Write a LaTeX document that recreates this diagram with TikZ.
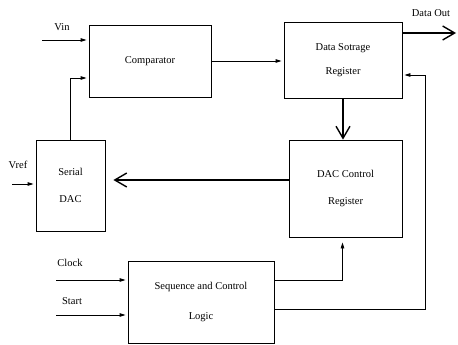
\documentclass[tikz,border=0pt]{standalone}
\usepackage{fontspec}
\setmainfont{Liberation Serif}
\usetikzlibrary{arrows.meta,calc,positioning}

\begin{document}
\begin{tikzpicture}[x=1pt,y=-1pt,>={Triangle[length=6pt,width=3.5pt]},
  every node/.style={font=\fontsize{10.5}{12.6}\selectfont},
  block/.style={draw,line width=0.8pt,align=center,inner sep=0pt},
  thin/.style={->,line width=0.8pt,shorten >=2pt},
  bus/.style={-{Straight Barb[length=12pt,width=14pt,line width=1.4pt]},line width=2.6pt}]
  \useasboundingbox (0,0) rectangle (458,345);
  % blocks
  \node[block,minimum width=122pt,minimum height=72pt] (comp)
    at (150,61) {Comparator};
  \node[block,minimum width=118pt,minimum height=76pt] (store)
    at (343,60) {Data Sotrage\\[11pt]Register};
  \node[block,minimum width=113pt,minimum height=97pt] (dacreg)
    at (345.5,188.5) {DAC Control\\[15pt]Register};
  \node[block,minimum width=69pt,minimum height=91pt] (sdac)
    at (70.5,185.5) {Serial\\[14pt]DAC};
  \node[block,minimum width=146pt,minimum height=82pt] (seq)
    at (201,302) {Sequence and Control\\[17pt]Logic};
  % signal labels
  \node (vinlbl) at (62,27) {Vin};
  \node (vreflbl) at (18,165) {Vref};
  \node (doutlbl) at (431,13) {Data Out};
  \node (clklbl) at (70,263) {Clock};
  \node (startlbl) at (72,301) {Start};
  \coordinate (vin) at (42,40);
  \coordinate (vref) at (12,184);
  \coordinate (dout) at (456,33);
  \coordinate (clk) at (56,280);
  \coordinate (start) at (56,315);
  \coordinate (fb) at (425,75);
  \coordinate (ctl) at (289,180);
  % connections
  \draw[thin] (vin) -- (vin -| comp.west);
  \draw[thin] (vref) -- (vref -| sdac.west);
  \draw[thin] (sdac.north) |- ($(comp.west)+(0,17)$);
  \draw[thin] (comp.east) -- (comp.east -| store.west);
  \draw[bus] (dout -| store.east) -- (dout);
  \draw[bus] (store.south) -- (store.south |- dacreg.north);
  \draw[bus,shorten >=8pt] (ctl -| dacreg.west) -- (ctl -| sdac.east);
  \draw[thin] (clk) -- (clk -| seq.west);
  \draw[thin] (start) -- (start -| seq.west);
  \draw[thin,shorten >=5pt] ($(seq.east)+(0,-22)$) -| ($(dacreg.south)+(-3,0)$);
  \draw[thin] ($(seq.east)+(0,7)$) -| (fb) -- (fb -| store.east);
\end{tikzpicture}
\end{document}
